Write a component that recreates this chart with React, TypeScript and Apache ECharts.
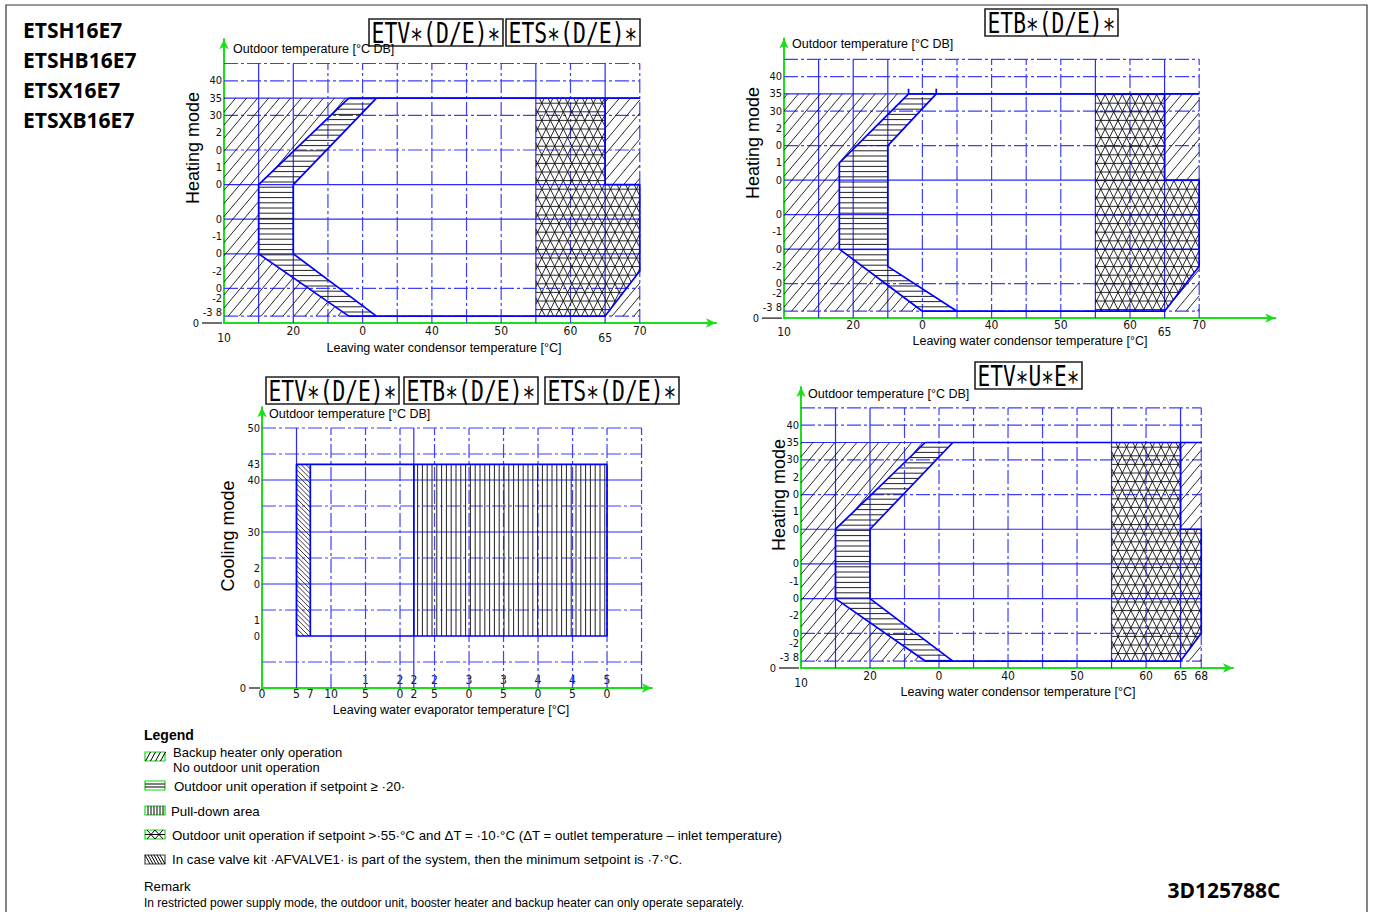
import { useEffect, useRef } from 'react';
import * as echarts from 'echarts';

// ---------------- tick labels ----------------
const heatXLabels: [number, string][] = [[10, '10'], [20, '20'], [30, '0'], [40, '40'], [50, '50'], [60, '60'], [65, '65'], [70, '70']];
const heatXLabelsU: [number, string][] = [[10, '10'], [20, '20'], [30, '0'], [40, '40'], [50, '50'], [60, '60'], [65, '65'], [68, '68']];
const heatYLabels: [number, string][] = [[40, '40'], [35, '35'], [30, '30'], [25, '2'], [20, '0'], [15, '1'], [10, '0'], [0, '0'], [-5, '-1'], [-10, '0'], [-15, '-2'], [-20, '0'], [-23, '-2'], [-27, '-3 8'], [-30, '0']];
const coolXLabels: [number, string][] = [[0, '0'], [5, '5'], [7, '7'], [10, '10'], [15, '1\n5'], [20, '2\n0'], [22, '2\n2'], [25, '2\n5'], [30, '3\n0'], [35, '3\n5'], [40, '4\n0'], [45, '4\n5'], [50, '5\n0']];
const coolYLabels: [number, string][] = [[50, '50'], [43, '43'], [40, '40'], [30, '30'], [23, '2'], [20, '0'], [13, '1'], [10, '0'], [0, '0']];

// ---------------- grid line values ----------------
const heatGridDashX = [25, 30, 35, 40, 45, 50, 60, 70];
const heatGridSolidX = [15, 20, 55, 65];
const etbGridDashX = [30, 35, 40, 45, 50, 60, 70];
const etbGridSolidX = [15, 20, 25, 55, 65];
const uGridDashX = [25, 30, 35, 40, 45, 50, 60, 68];
const heatGridDashY = [45, 40, 30, 20, -20, -28];
const heatGridSolidY = [35, 10, 0, -10];
const coolGridDashX = [10, 15, 20, 25, 30, 35, 40, 45, 50, 55];
const coolGridSolidX = [5, 22];
const coolGridDashY = [50, 45, 35, 25, 15, 5];
const coolGridSolidY = [40, 30, 20];

// ---------------- operating areas (LWT °C, outdoor °C) ----------------
// ETV/ETS heating
const etvBackupLeft = [[10, 35], [28, 35], [15, 10], [15, -10], [28, -28], [10, -28]];
const etvBand = [[28, 35], [32, 35], [20, 10], [20, -10], [32, -28], [28, -28], [15, -10], [15, 10]];
const etvBandLeft = [[28, 35], [15, 10], [15, -10], [28, -28]];
const etvBandRight = [[32, 35], [20, 10], [20, -10], [32, -28]];
const right70Cross = [[55, 35], [65, 35], [65, 10], [70, 10], [70, -15], [65, -28], [55, -28]];
const right70BackupHigh = [[65, 35], [70, 35], [70, 10], [65, 10]];
const right70BackupLow = [[65, -28], [70, -15], [70, -28]];
const etvTop = [[28, 35], [70, 35]];
const etvRightEdge = [[65, 35], [65, 10], [70, 10], [70, -15], [65, -28], [28, -28]];
// ETB heating
const etbBackupLeft = [[10, 35], [28, 35], [18, 15], [18, -10], [30, -28], [10, -28]];
const etbBand = [[28, 35], [32, 35], [25, 20], [25, -15], [35, -28], [30, -28], [18, -10], [18, 15]];
const etbBandLeft = [[28, 36.5], [28, 35], [18, 15], [18, -10], [30, -28]];
const etbBandRight = [[32, 36.5], [32, 35], [25, 20], [25, -15], [35, -28]];
const etbRightEdge = [[65, 35], [65, 10], [70, 10], [70, -15], [65, -28], [30, -28]];
// ETV*U*E* heating
const right68Cross = [[55, 35], [65, 35], [65, 10], [68, 10], [68, -20], [65, -28], [55, -28]];
const right68BackupHigh = [[65, 35], [68, 35], [68, 10], [65, 10]];
const right68BackupLow = [[65, -28], [68, -20], [68, -28]];
const uTop = [[28, 35], [68, 35]];
const uRightEdge = [[65, 35], [65, 10], [68, 10], [68, -20], [65, -28], [28, -28]];
// Cooling
const coolEnvelope = [[5, 10], [50, 10], [50, 43], [5, 43], [5, 10]];
const coolValve = [[5, 10], [7, 10], [7, 43], [5, 43]];
const coolPullDown = [[22, 10], [50, 10], [50, 43], [22, 43]];
const coolLine7 = [[7, 10], [7, 43]];
const coolLine22 = [[22, 10], [22, 43]];

// ---------------- texts ----------------
const modelCodes = ['ETSH16E7', 'ETSHB16E7', 'ETSX16E7', 'ETSXB16E7'];
const legendItems = [
  'Backup heater only operation',
  'No outdoor unit operation',
  'Outdoor unit operation if setpoint ≥ ·20·',
  'Pull-down area',
  'Outdoor unit operation if setpoint >·55·°C and ΔT = ·10·°C (ΔT = outlet temperature – inlet temperature)',
  'In case valve kit ·AFVALVE1· is part of the system, then the minimum setpoint is ·7·°C.',
];

// ---------------- styling / layout ----------------
const NARROW = '"Liberation Sans Narrow", "DejaVu Sans Condensed", "Liberation Sans", sans-serif';
const SANS = '"Liberation Sans", Arial, sans-serif';
const BOLD = '"Open Sans", "Noto Sans", sans-serif';
const MONO = '"DejaVu Sans Mono", monospace';
const GREEN = '#19e019';
const BLUE = '#0000ff';
const GRID_DASH = '#3f3fff';
const GRID_SOLID = '#2a2aff';
const LBL = 11;

const LAYOUT = [
  { left: 224, top: 39.3, width: 492, height: 283.7, xmin: 10, xmax: 81, ymin: -30, ymax: 52 },
  { left: 784, top: 38.6, width: 491.3, height: 279.5, xmin: 10, xmax: 81, ymin: -30, ymax: 51 },
  { left: 262, top: 407.2, width: 389.9, height: 280.8, xmin: 0, xmax: 56.5, ymin: 0, ymax: 54 },
  { left: 801, top: 387, width: 432, height: 281, xmin: 10, xmax: 72.6, ymin: -30, ymax: 51 },
];

function lattice(w: number, h: number) {
  const L = Math.hypot(w / 2, h);
  return [
    { dx: 1, dy: 0, s: h },
    { dx: w / 2, dy: h, s: (h * w) / L },
    { dx: w / 2, dy: -h, s: (h * w) / L },
  ];
}
const A50 = (50 * Math.PI) / 180;
const FAMILIES: Record<string, { dx: number; dy: number; s: number }[]> = {
  backup: [{ dx: Math.cos(A50), dy: -Math.sin(A50), s: 8.4 }],
  band: [{ dx: 1, dy: 0, s: 5.2 }],
  pull: [{ dx: 0, dy: 1, s: 4.8 }],
  valve: [{ dx: 1, dy: 1, s: 3.4 }],
  cross: lattice(8.6, 8.6),
};

function hatchPath(pts: number[][], fams: { dx: number; dy: number; s: number }[]) {
  let d = '';
  const n = pts.length;
  for (const f of fams) {
    const len = Math.hypot(f.dx, f.dy);
    const ux = f.dx / len, uy = f.dy / len;
    const nx = -uy, ny = ux;
    const ts = pts.map((p) => p[0] * nx + p[1] * ny);
    const k0 = Math.ceil(Math.min(...ts) / f.s);
    const k1 = Math.floor(Math.max(...ts) / f.s);
    for (let k = k0; k <= k1; k++) {
      const t = k * f.s + 0.0001;
      const ss: number[] = [];
      for (let i = 0; i < n; i++) {
        const a = pts[i], b = pts[(i + 1) % n];
        const fa = a[0] * nx + a[1] * ny - t;
        const fb = b[0] * nx + b[1] * ny - t;
        if ((fa < 0) !== (fb < 0)) {
          const u = fa / (fa - fb);
          const px = a[0] + u * (b[0] - a[0]);
          const py = a[1] + u * (b[1] - a[1]);
          ss.push(px * ux + py * uy);
        }
      }
      ss.sort((p, q) => p - q);
      for (let j = 0; j + 1 < ss.length; j += 2) {
        const x1 = t * nx + ss[j] * ux, y1 = t * ny + ss[j] * uy;
        const x2 = t * nx + ss[j + 1] * ux, y2 = t * ny + ss[j + 1] * uy;
        d += `M${x1.toFixed(2)} ${y1.toFixed(2)}L${x2.toFixed(2)} ${y2.toFixed(2)}`;
      }
    }
  }
  return d;
}

function hatchSeries(g: number, poly: number[][], kind: string, color = '#111', width = 0.9) {
  return {
    type: 'custom', xAxisIndex: g, yAxisIndex: g, data: poly, silent: true, z: 3, clip: false,
    renderItem: (params: any, api: any) => {
      if (params.dataIndex !== 0) return null;
      const pts = poly.map((p) => api.coord(p));
      return { type: 'path', shape: { pathData: hatchPath(pts, FAMILIES[kind]) }, style: { fill: 'none', stroke: color, lineWidth: width } };
    },
  };
}

function gridSegs(xs: number[], ys: number[], xr: number[], yr: number[]) {
  return [...xs.map((x) => [x, yr[0], x, yr[1]]), ...ys.map((y) => [xr[0], y, xr[1], y])];
}

function segSeries(g: number, segs: number[][], color: string, width: number, dash: number[] | null) {
  return {
    type: 'custom', xAxisIndex: g, yAxisIndex: g, data: segs, silent: true, z: 2, clip: false,
    encode: { x: [0, 2], y: [1, 3] },
    renderItem: (_p: any, api: any) => {
      const a = api.coord([api.value(0), api.value(1)]);
      const b = api.coord([api.value(2), api.value(3)]);
      return { type: 'line', shape: { x1: a[0], y1: a[1], x2: b[0], y2: b[1] }, style: { stroke: color, lineWidth: width, lineDash: dash || undefined, fill: null } };
    },
  };
}

function edgeSeries(g: number, pts: number[][], width = 1.7) {
  return {
    type: 'line', xAxisIndex: g, yAxisIndex: g, data: pts, showSymbol: false, symbol: 'none', silent: true,
    z: 5, clip: false, lineStyle: { color: BLUE, width },
  };
}

function fmt(labels: [number, string][], opts: { low?: number[]; lineAt?: number; twoLine?: boolean }) {
  const m = new Map(labels);
  return (v: number) => {
    const k = Math.round(v * 1000) / 1000;
    const t = m.get(k);
    if (t === undefined) return '';
    if (opts.lineAt !== undefined && k === opts.lineAt) return `{z|${t}}{ln| }`;
    if (opts.low && opts.low.includes(k)) return `{lo|${t}}`;
    if (opts.twoLine && !t.includes('\n')) return '\n' + t;
    return t;
  };
}

function richFor(lineW: number, size: number) {
  return {
    lo: { lineHeight: 28, fontSize: size, fontFamily: NARROW, color: '#111' },
    z: { fontSize: size, fontFamily: NARROW, color: '#111', padding: [0, 3, 0, 0] },
    ln: { width: lineW, height: 1.2, backgroundColor: '#111', fontSize: 2 },
  };
}

function xAxisFor(g: number, labels: [number, string][], opts: any, margin: number) {
  const l = LAYOUT[g];
  return {
    type: 'value', gridIndex: g, min: l.xmin, max: l.xmax, interval: 1,
    axisLine: { show: true, onZero: false, lineStyle: { color: GREEN, width: 2 }, symbol: ['none', 'arrow'], symbolSize: [7, 10] },
    axisTick: { show: false }, splitLine: { show: false },
    axisLabel: { show: true, margin, color: '#111', fontSize: 12, fontFamily: NARROW, lineHeight: 14, formatter: fmt(labels, opts), rich: richFor(0, 12) },
  };
}
function yAxisFor(g: number, labels: [number, string][], lineW: number) {
  const l = LAYOUT[g];
  return {
    type: 'value', gridIndex: g, min: l.ymin, max: l.ymax, interval: 1,
    axisLine: { show: true, onZero: false, lineStyle: { color: GREEN, width: 2 }, symbol: ['none', 'arrow'], symbolSize: [7, 10] },
    axisTick: { show: false }, splitLine: { show: false },
    axisLabel: { show: true, margin: 2, color: '#111', fontSize: LBL, fontFamily: NARROW, formatter: fmt(labels, { lineAt: l.ymin }), rich: richFor(lineW, LBL) },
  };
}

function measure(text: string, font: string) {
  const c = document.createElement('canvas').getContext('2d')!;
  c.font = font;
  return c.measureText(text).width || 1;
}

function txt(text: string, x: number, y: number, size: number, opts: any = {}) {
  const family = opts.family || SANS;
  const weight = opts.weight || 'normal';
  const align = opts.align || 'left';
  return {
    type: 'text', x, y, rotation: opts.rotation || 0, scaleX: opts.scaleX || 1, z: 10, silent: true,
    style: {
      text, fontSize: size, fontFamily: family, fontWeight: weight, fill: opts.color || '#000',
      textAlign: align, textVerticalAlign: 'middle', align, verticalAlign: 'middle',
    },
  };
}

function titleBox(text: string, x: number, y: number, w: number, h: number) {
  const font = `28px ${MONO}`;
  const sc = (w - 5) / measure(text, font);
  return [
    { type: 'rect', shape: { x, y, width: w, height: h }, style: { fill: 'none', stroke: '#222', lineWidth: 1.6 }, z: 10, silent: true },
    { ...txt(text, x + w / 2, y + h / 2 + 1, 28, { family: MONO, align: 'center', scaleX: sc }) },
  ];
}

function line(x1: number, y1: number, x2: number, y2: number, stroke = '#000', w = 1) {
  return { type: 'line', shape: { x1, y1, x2, y2 }, style: { stroke, lineWidth: w }, z: 10, silent: true };
}
function iconBox(x: number, y: number, stroke: string) {
  return { type: 'rect', shape: { x, y, width: 20, height: 9 }, style: { fill: 'none', stroke, lineWidth: 1.2 }, z: 10, silent: true };
}

function buildOption() {
  const graphic: any[] = [];
  // page frame
  graphic.push({ type: 'polyline', shape: { points: [[6, 912], [6, 5], [1367, 5], [1367, 912]] }, style: { fill: 'none', stroke: '#333', lineWidth: 1.2 }, silent: true });
  modelCodes.forEach((c, i) => graphic.push(txt(c, 23, 30 + i * 30, 21, { family: BOLD, weight: 'bold' })));
  graphic.push(txt('3D125788C', 1224, 890, 21, { family: BOLD, weight: 'bold', align: 'center' }));
  // title boxes
  graphic.push(...titleBox('ETV∗(D/E)∗', 369, 19, 134, 27));
  graphic.push(...titleBox('ETS∗(D/E)∗', 506, 19, 134, 27));
  graphic.push(...titleBox('ETB∗(D/E)∗', 985, 9, 133, 27));
  graphic.push(...titleBox('ETV∗(D/E)∗', 266, 377, 133, 27));
  graphic.push(...titleBox('ETB∗(D/E)∗', 404, 377, 134, 27));
  graphic.push(...titleBox('ETS∗(D/E)∗', 545, 377, 134, 27));
  graphic.push(...titleBox('ETV∗U∗E∗', 975, 362, 107, 27));
  // axis names
  const outdoor = 'Outdoor temperature [°C DB]';
  graphic.push(txt(outdoor, 233, 49, 12.5), txt(outdoor, 792, 44, 12.5), txt(outdoor, 269, 414, 12.5), txt(outdoor, 808, 394, 12.5));
  const cond = 'Leaving water condensor temperature [°C]';
  graphic.push(txt(cond, 444, 348, 12.5, { align: 'center' }), txt(cond, 1030, 341, 12.5, { align: 'center' }), txt(cond, 1018, 692, 12.5, { align: 'center' }));
  graphic.push(txt('Leaving water evaporator temperature [°C]', 451, 710, 12.5, { align: 'center' }));
  graphic.push(txt('Heating mode', 193, 148, 18, { align: 'center', rotation: Math.PI / 2 }));
  graphic.push(txt('Heating mode', 753, 143, 18, { align: 'center', rotation: Math.PI / 2 }));
  graphic.push(txt('Heating mode', 779, 495, 18, { align: 'center', rotation: Math.PI / 2 }));
  graphic.push(txt('Cooling mode', 228, 536, 18, { align: 'center', rotation: Math.PI / 2 }));
  // legend
  graphic.push(txt('Legend', 144, 735, 14, { weight: 'bold' }));
  graphic.push(txt(legendItems[0], 173, 752.5, 13), txt(legendItems[1], 173, 767.5, 13));
  graphic.push(txt(legendItems[2], 174, 786, 13.3));
  graphic.push(txt(legendItems[3], 171, 811, 13.3));
  graphic.push(txt(legendItems[4], 172, 835, 13.3));
  graphic.push(txt(legendItems[5], 172, 859, 13.3));
  graphic.push(txt('Remark', 144, 886, 13.3));
  graphic.push(txt('In restricted power supply mode, the outdoor unit, booster heater and backup heater can only operate separately.', 144, 903, 12));
  // legend icons
  const ix = 145;
  graphic.push(iconBox(ix, 752, '#11dd11'));
  [0, 5, 10, 15].forEach((i) => graphic.push(line(ix + i + 0.5, 761, ix + i + 5.5, 752)));
  graphic.push(iconBox(ix, 781, '#11dd11'), line(ix, 784, ix + 20, 784), line(ix, 787, ix + 20, 787));
  graphic.push(iconBox(ix, 806, '#11dd11'));
  [3, 6, 9, 12, 15, 18].forEach((i) => graphic.push(line(ix + i, 806, ix + i, 815)));
  graphic.push(iconBox(ix, 830, '#11dd11'), line(ix, 834.5, ix + 20, 834.5));
  [[2, 10], [10, 2], [10, 18], [18, 10]].forEach(([a, b]) => graphic.push(line(ix + a, 830, ix + b, 839)));
  graphic.push(iconBox(ix, 855, '#444'));
  [0, 3, 6, 9, 12, 15].forEach((i) => graphic.push(line(ix + i, 855, ix + i + 5, 864)));

  const series: any[] = [];
  // chart 0: ETV/ETS heating
  series.push(segSeries(0, gridSegs(heatGridDashX, heatGridDashY, [10, 70], [-30, 45]), GRID_DASH, 1.2, [14, 3, 3, 3]));
  series.push(segSeries(0, gridSegs(heatGridSolidX, heatGridSolidY, [10, 70], [-30, 45]), GRID_SOLID, 1.2, null));
  series.push(hatchSeries(0, etvBackupLeft, 'backup'), hatchSeries(0, right70BackupHigh, 'backup'), hatchSeries(0, right70BackupLow, 'backup'));
  series.push(hatchSeries(0, etvBand, 'band', '#222', 1), hatchSeries(0, right70Cross, 'cross', '#111', 0.9));
  series.push(edgeSeries(0, etvTop), edgeSeries(0, etvRightEdge), edgeSeries(0, etvBandLeft), edgeSeries(0, etvBandRight));
  // chart 1: ETB heating
  series.push(segSeries(1, gridSegs(etbGridDashX, heatGridDashY, [10, 70], [-30, 45]), GRID_DASH, 1.2, [14, 3, 3, 3]));
  series.push(segSeries(1, gridSegs(etbGridSolidX, heatGridSolidY, [10, 70], [-30, 45]), GRID_SOLID, 1.2, null));
  series.push(hatchSeries(1, etbBackupLeft, 'backup'), hatchSeries(1, right70BackupHigh, 'backup'), hatchSeries(1, right70BackupLow, 'backup'));
  series.push(hatchSeries(1, etbBand, 'band', '#222', 1), hatchSeries(1, right70Cross, 'cross', '#111', 0.9));
  series.push(edgeSeries(1, etvTop), edgeSeries(1, etbRightEdge), edgeSeries(1, etbBandLeft), edgeSeries(1, etbBandRight));
  // chart 2: cooling
  series.push(segSeries(2, gridSegs(coolGridDashX, coolGridDashY, [0, 55], [0, 50]), GRID_DASH, 1.2, [14, 3, 3, 3]));
  series.push(segSeries(2, gridSegs(coolGridSolidX, coolGridSolidY, [0, 55], [0, 50]), GRID_SOLID, 1.2, null));
  series.push(hatchSeries(2, coolValve, 'valve', '#222', 0.9), hatchSeries(2, coolPullDown, 'pull', '#222', 1));
  series.push(edgeSeries(2, coolEnvelope), edgeSeries(2, coolLine7), edgeSeries(2, coolLine22));
  // chart 3: ETV*U*E* heating
  series.push(segSeries(3, gridSegs(uGridDashX, heatGridDashY, [10, 68], [-30, 45]), GRID_DASH, 1.2, [14, 3, 3, 3]));
  series.push(segSeries(3, gridSegs(heatGridSolidX, heatGridSolidY, [10, 68], [-30, 45]), GRID_SOLID, 1.2, null));
  series.push(hatchSeries(3, etvBackupLeft, 'backup'), hatchSeries(3, right68BackupHigh, 'backup'), hatchSeries(3, right68BackupLow, 'backup'));
  series.push(hatchSeries(3, etvBand, 'band', '#222', 1), hatchSeries(3, right68Cross, 'cross', '#111', 0.9));
  series.push(edgeSeries(3, uTop), edgeSeries(3, uRightEdge), edgeSeries(3, etvBandLeft), edgeSeries(3, etvBandRight));

  return {
    animation: false,
    backgroundColor: '#ffffff',
    grid: LAYOUT.map((l) => ({ left: l.left, top: l.top, width: l.width, height: l.height, containLabel: false })),
    xAxis: [
      xAxisFor(0, heatXLabels, { low: [10, 65] }, 1),
      xAxisFor(1, heatXLabels, { low: [10, 65] }, 0),
      xAxisFor(2, coolXLabels, { twoLine: true }, -15),
      xAxisFor(3, heatXLabelsU, { low: [10] }, 1),
    ],
    yAxis: [yAxisFor(0, heatYLabels, 20), yAxisFor(1, heatYLabels, 20), yAxisFor(2, coolYLabels, 11), yAxisFor(3, heatYLabels, 20)],
    series,
    graphic,
  };
}

export default function App() {
  const ref = useRef<HTMLDivElement>(null);
  useEffect(() => {
    const chart = echarts.init(ref.current!, null, { renderer: 'svg', width: 1375, height: 912 });
    chart.setOption(buildOption() as any);
    return () => chart.dispose();
  }, []);
  return <div ref={ref} style={{ position: 'absolute', left: 0, top: 0, width: 1375, height: 912, background: '#fff' }} />;
}
